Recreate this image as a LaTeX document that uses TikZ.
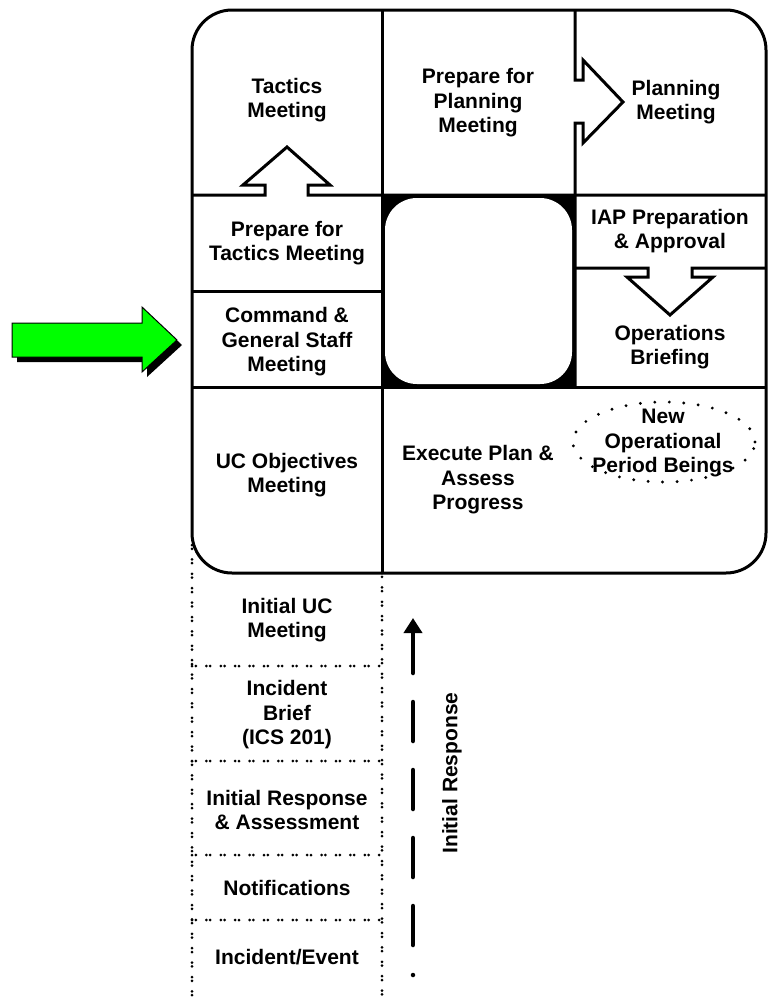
\documentclass[tikz,border=0pt]{standalone}
\usepackage{fontspec}
\setmainfont{Liberation Sans}
\usepackage{tikz}
\usepackage{xcolor}
\usetikzlibrary{arrows.meta}
\definecolor{arrowgreen}{RGB}{0,255,0}

\tikzset{
  lbl/.style={font=\bfseries\fontsize{21}{24.5}\selectfont, align=center, inner sep=0pt},
  frame/.style={line width=3pt},
  dotline/.style={line width=3pt, line cap=round, dash pattern=on 0pt off 3.8pt on 0pt off 10.6pt},
  dotring/.style={line width=3.2pt, line cap=round, dash pattern=on 0pt off 14.5pt},
}

\begin{document}
\begin{tikzpicture}[x=1pt,y=-1pt]
                % Page
                \useasboundingbox (0,0) rectangle (772,997);

                % Green arrow
                \fill[black] (17,328) -- (147,328) -- (147,312) -- (182,345) -- (147,377) -- (147,362) -- (17,362) -- cycle;
                \filldraw[fill=arrowgreen, draw=black, line width=1pt] (12,323) -- (142,323) -- (142,307) -- (177,340) -- (142,372) -- (142,357) -- (12,357) -- cycle;

                % Lower stack
                \draw[dotline] (192,545) -- (192,997);
                \draw[dotline] (382,573) -- (382,997);
                \foreach \y in {666,761,855,920}
                    \draw[dotline] (192,\y) -- (382,\y);

                % Center block
                \fill[black] (382,195) rectangle (575,387);
                \fill[white, rounded corners=32pt] (385,198) rectangle (572,384);

                % Frame
                \draw[frame, rounded corners=40pt] (192,10) rectangle (766,573);
                \draw[frame] (382,10) -- (382,573);

                % Arrow to planning
                \draw[frame] (575,10) -- (575,80) -- (583,80) -- (583,60) -- (623,102) -- (583,143) -- (583,123) -- (575,123) -- (575,387);

                % Arrow to tactics
                \draw[frame] (192,195) -- (265,195) -- (265,185) -- (243,185) -- (287,147) -- (330,185) -- (308,185) -- (308,195) -- (766,195);
                \draw[frame] (192,291) -- (382,291);
                \draw[frame] (192,387) -- (766,387);

                % Arrow to briefing
                \draw[frame] (575,268) -- (648,268) -- (648,277) -- (627,277) -- (670,315) -- (713,277) -- (692,277) -- (692,268) -- (766,268);

                % Cells
                \node[lbl] (tactics) at (287,100) {Tactics\\Meeting};
                \node[lbl] (prepplan) at (478,103) {Prepare for\\Planning\\Meeting};
                \node[lbl] (planning) at (676,102) {Planning\\Meeting};
                \node[lbl] (preptact) at (287,243) {Prepare for\\Tactics Meeting};
                \node[lbl] (iap) at (670,231) {IAP Preparation\\\& Approval};
                \node[lbl] (cgs) at (287,342) {Command \&\\General Staff\\Meeting};
                \node[lbl] (opsbrief) at (670,347) {Operations\\Briefing};
                \node[lbl] (ucobj) at (287,475) {UC Objectives\\Meeting};
                \node[lbl] (execute) at (478,480) {Execute Plan \&\\Assess\\Progress};

                % New period
                \draw[dotring] (664,442) ellipse (91pt and 40pt);
                \node[lbl] (newop) at (663,443) {New\\Operational\\Period Beings};

                % Initial steps
                \node[lbl] (initmeet) at (287,620) {Initial UC\\Meeting};
                \node[lbl] (brief) at (287,715) {Incident\\Brief\\(ICS 201)};
                \node[lbl] (initresp) at (287,810) {Initial Response\\\& Assessment};
                \node[lbl] (notify) at (287,888) {Notifications};
                \node[lbl] (event) at (287,957) {Incident/Event};

                % Initial response
                \coordinate (irstart) at (413,975);
                \coordinate (irend) at (413,618);
                \draw[line width=4.5pt, line cap=round, dash pattern=on 0pt off 30pt on 39pt off 29pt on 39pt off 29pt on 39pt off 29pt on 39pt off 29pt on 80pt, -{Triangle[length=15pt,width=18pt]}] (irstart) -- (irend);
                \node[lbl, rotate=90] (irlabel) at (452,773) {Initial Response};
            \end{tikzpicture}
\end{document}
